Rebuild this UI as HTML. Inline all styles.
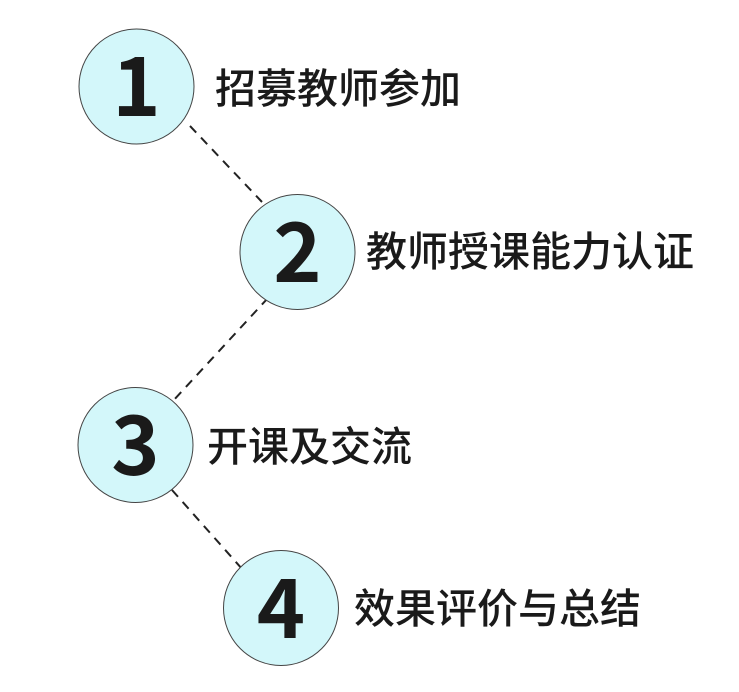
<!DOCTYPE html>
<html><head><meta charset="utf-8"><style>body{margin:0;background:#fff}</style></head><body>
<svg width="739" height="687" xmlns="http://www.w3.org/2000/svg">
<g stroke="#222" stroke-width="2" stroke-dasharray="9,7">
<line x1="190" y1="126" x2="262" y2="202"/>
<line x1="268" y1="298" x2="172" y2="402"/>
<line x1="172" y1="490" x2="243" y2="570"/>
</g>
<g fill="#d3f7fa" stroke="#444" stroke-width="1">
<circle cx="136.5" cy="86.5" r="57.5"/>
<circle cx="297.5" cy="252" r="57.5"/>
<circle cx="135.5" cy="445" r="57.5"/>
<circle cx="281" cy="608" r="57.5"/>
</g>
<g font-family="Noto Sans CJK SC, sans-serif" fill="#1a1a1a" font-size="82" font-weight="600" text-anchor="middle">
<text x="136.5" y="116">1</text>
<text x="297.5" y="282">2</text>
<text x="135.5" y="475">3</text>
<text x="281" y="638">4</text>
</g>
<g font-family="Noto Sans CJK SC, sans-serif" fill="#1a1a1a" font-size="41" font-weight="500">
<text x="215" y="103">招募教师参加</text>
<text x="366" y="266">教师授课能力认证</text>
<text x="207" y="461">开课及交流</text>
<text x="354" y="623">效果评价与总结</text>
</g>
</svg>
</body></html>
